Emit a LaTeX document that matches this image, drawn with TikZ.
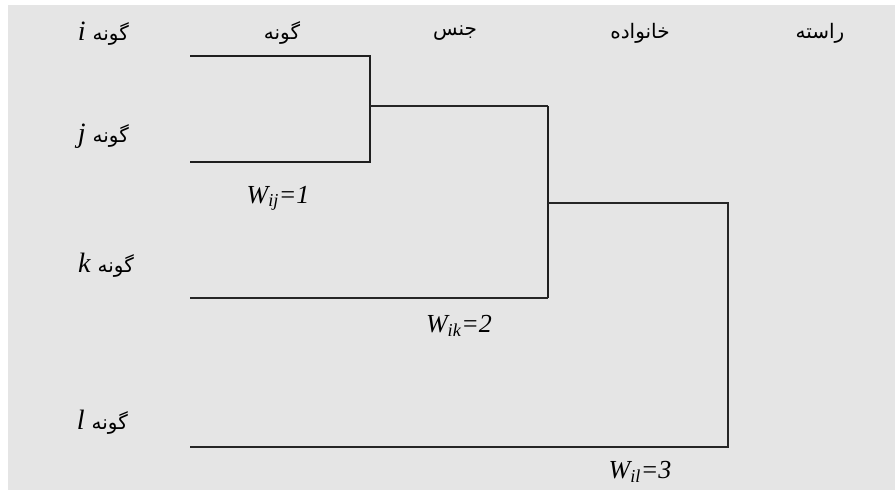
\documentclass[tikz,border=0pt]{standalone}
\usepackage{fontspec}
\setmainfont{Liberation Serif}
\newfontfamily\arabicfont[Script=Arabic]{DejaVu Sans}
\TeXXeTstate=1
\newcommand{\fasize}{\fontsize{20}{24}\selectfont}
\newcommand{\latsize}{\fontsize{28}{30}\selectfont}
\begin{document}
\begin{tikzpicture}[x=1pt,y=-1pt,
  heavy/.style={draw=black!88,line width=1.4pt},
  light/.style={draw=black!85,line width=1.1pt},
  fa/.style={font=\arabicfont\fasize, inner sep=0pt},
  wlab/.style={font=\itshape\fontsize{26}{30}\selectfont, inner sep=0pt, anchor=base},
  sp/.style={inner sep=0pt, anchor=base east}]
\useasboundingbox (0,0) rectangle (895,490);
\fill[white] (0,0) rectangle (895,490);
\fill[black!10] (8,5) rectangle (895,490);

% leaves and junctions
\coordinate (li) at (190,56);
\coordinate (lj) at (190,162);
\coordinate (lk) at (190,298);
\coordinate (ll) at (190,447);
\coordinate (n1top) at (370,56);
\coordinate (n1bot) at (370,162);
\coordinate (n1) at (370,106);
\coordinate (n2top) at (548,106);
\coordinate (n2bot) at (548,298);
\coordinate (n2) at (548,203);
\coordinate (n3top) at (728,203);
\coordinate (n3bot) at (728,447);

\draw[heavy] (li) -- (n1top) -- (n1bot) -- (lj);
\draw[light] (n1) -- (n2top);
\draw[heavy] (n2top) -- (n2bot);
\draw[light] (n2bot) -- (lk);
\draw[light] (n2) -- (n3top) -- (n3bot) -- (ll);

% header row
\node[fa] (hg) at (282,33) {\beginR گونه\endR};
\node[fa] (hj) at (455,33) {\beginR جنس\endR};
\node[fa] (hk) at (640,33) {\beginR خانواده\endR};
\node[fa] (hr) at (820,33) {\beginR راسته\endR};

% species labels
\node[sp] (si) at (129,40) {{\itshape\latsize i}\hspace{7pt}{\arabicfont\fasize\beginR گونه\endR}};
\node[sp] (sj) at (129,142) {{\itshape\latsize j}\hspace{7pt}{\arabicfont\fasize\beginR گونه\endR}};
\node[sp] (sk) at (134,272) {{\itshape\latsize k}\hspace{7pt}{\arabicfont\fasize\beginR گونه\endR}};
\node[sp] (sl) at (128,429) {{\itshape\latsize l}\hspace{7pt}{\arabicfont\fasize\beginR گونه\endR}};

% weights
\node[wlab] (wij) at (278,203) {W\textsubscript{ij}=1};
\node[wlab] (wik) at (459,332) {W\textsubscript{ik}=2};
\node[wlab] (wil) at (640,478) {W\textsubscript{il}=3};
\end{tikzpicture}
\end{document}
